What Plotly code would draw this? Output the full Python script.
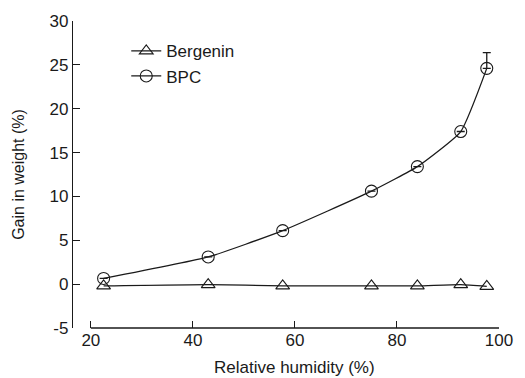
import plotly.graph_objects as go

rh = [22.5, 43, 57.6, 75, 84, 92.5, 97.6]
bergenin = [-0.2, -0.05, -0.2, -0.2, -0.2, -0.05, -0.25]
bpc = [0.65, 3.1, 6.1, 10.6, 13.4, 17.4, 24.6]
bpc_err = [0, 0, 0, 0, 0, 0, 1.8]
bpc_err_minus = [0, 0, 0, 0, 0, 0, 0]

x_ticks = [20, 40, 60, 80, 100]
y_ticks = [-5, 0, 5, 10, 15, 20, 25, 30]
y_tick_text = ["-5", "0", "5", "10", "15", "20", "25", "30"]

font_family = "Liberation Sans, Arial, sans-serif"
ink = "#1a1a1a"

fig = go.Figure()
fig.add_trace(go.Scatter(
    x=rh, y=bergenin, name="Bergenin", mode="lines+markers",
    line=dict(color=ink, width=1.3, shape="spline", smoothing=0.5),
    marker=dict(symbol="triangle-up-open", size=12, color=ink, line=dict(width=1.1)),
))
fig.add_trace(go.Scatter(
    x=rh, y=bpc, name="BPC", mode="lines+markers",
    line=dict(color=ink, width=1.3, shape="spline", smoothing=0.45),
    marker=dict(symbol="circle-open", size=12, color=ink, line=dict(width=1.1)),
    error_y=dict(type="data", array=bpc_err, arrayminus=bpc_err_minus, visible=True,
                 color=ink, thickness=1.3, width=4),
))

fig.add_shape(type="line", xref="x", yref="paper", x0=x_ticks[0], x1=x_ticks[-1], y0=0, y1=0,
              line=dict(color=ink, width=1.3))

fig.add_annotation(text="Relative humidity (%)", xref="x", yref="paper",
                   x=(x_ticks[0] + x_ticks[-1]) / 2, y=0, yshift=-39, yanchor="middle",
                   showarrow=False, font=dict(size=17, color=ink))

fig.update_layout(
    width=525, height=378,
    margin=dict(l=73, r=16, t=16, b=50),
    paper_bgcolor="white", plot_bgcolor="white",
    font=dict(family=font_family, size=17, color=ink),
    showlegend=True,
    legend=dict(x=0.125, y=0.96, xanchor="left", yanchor="top", bgcolor="rgba(0,0,0,0)",
                font=dict(size=17), tracegroupgap=0, itemwidth=30),
    xaxis=dict(range=[16.5, 100], tickvals=x_ticks, ticks="inside", ticklen=7, tickwidth=1.3,
               tickcolor=ink, showline=False, showgrid=False, zeroline=False,
               tickfont=dict(size=17)),
    yaxis=dict(range=[-5, 30], tickvals=y_ticks, ticktext=y_tick_text, ticks="inside", ticklen=7,
               tickwidth=1.3, tickcolor=ink, showline=True, linecolor=ink, linewidth=1.3,
               showgrid=False, zeroline=False, tickfont=dict(size=17),
               title=dict(text="Gain in weight (%)", standoff=20, font=dict(size=16))),
)

fig.write_html("out.html")
